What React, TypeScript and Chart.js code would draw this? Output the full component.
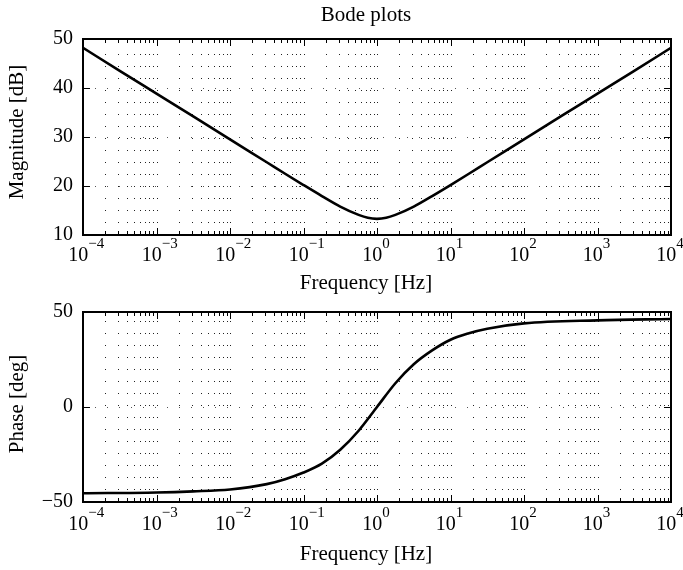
import React, { useEffect, useRef } from 'react';
import { Chart, registerables } from 'chart.js';

Chart.register(...registerables);

// ---------- data ----------
const magFreq = [1e-4, 3.162e-4, 1e-3, 3.162e-3, 1e-2, 3.162e-2, 5.623e-2, 0.1, 0.1778, 0.3162, 0.5623, 0.7499, 1, 1.3335, 1.7783, 3.162, 5.623, 10, 17.78, 31.62, 100, 316.2, 1000, 3162, 1e4];
const magDb = [48.2, 43.5, 38.85, 34.2, 29.5, 24.85, 22.5, 20.2, 17.95, 15.8, 14.1, 13.5, 13.3, 13.5, 14.1, 15.8, 17.95, 20.2, 22.5, 24.85, 29.5, 34.2, 38.85, 43.5, 48.2];

const phaseFreq = [1e-4, 1e-3, 3.162e-3, 1e-2, 3.162e-2, 5.623e-2, 0.1, 0.1778, 0.3162, 0.5623, 1, 1.7783, 3.162, 5.623, 10, 17.78, 31.62, 100, 1000, 1e4];
const phaseDeg = [-45.4, -45.0, -44.4, -43.4, -40.6, -38.0, -34.5, -29.8, -22.5, -12.5, 0, 12.5, 22.5, 29.8, 35.4, 38.8, 41.2, 44.0, 45.6, 46.3];

const decades = [-4, -3, -2, -1, 0, 1, 2, 3, 4];
const magTicks = [10, 20, 30, 40, 50];
const phaseTicks = [-50, 0, 50];

const titleText = 'Bode plots';
const xTitleText = 'Frequency [Hz]';
const magTitleText = 'Magnitude [dB]';
const phaseTitleText = 'Phase [deg]';

const FONT = "'Liberation Serif', 'Times New Roman', Times, serif";

type Deco = {
  yTicks: number[];
  yTitle: string;
  yTitleCenter: number;
  title?: string;
  tickBaseOff: number;
  xTitleBaseOff: number;
};

function makePlugin(d: Deco) {
  return {
    id: 'bodeDeco',
    beforeDatasetsDraw(chart: any) {
      const { ctx, chartArea: a, scales } = chart;
      const xs = scales.x;
      const ys = scales.y;
      ctx.save();
      ctx.strokeStyle = '#222';
      ctx.lineWidth = 1;
      ctx.setLineDash([1, 11]);
      for (let k = -4; k < 4; k++) {
        for (let m = 1; m <= 9; m++) {
          if (k === -4 && m === 1) continue;
          const x = Math.round(xs.getPixelForValue(m * Math.pow(10, k))) + 0.5;
          ctx.beginPath();
          ctx.moveTo(x, a.bottom);
          ctx.lineTo(x, a.top);
          ctx.stroke();
        }
      }
      ctx.strokeStyle = '#555';
      const yMin = d.yTicks[0];
      const yMax = d.yTicks[d.yTicks.length - 1];
      for (const t of d.yTicks) {
        if (t === yMin || t === yMax) continue;
        const y = Math.round(ys.getPixelForValue(t)) + 0.5;
        ctx.beginPath();
        ctx.moveTo(a.left, y);
        ctx.lineTo(a.right, y);
        ctx.stroke();
      }
      ctx.restore();
    },
    afterDraw(chart: any) {
      const { ctx, chartArea: a, scales } = chart;
      const xs = scales.x;
      const ys = scales.y;
      ctx.save();
      ctx.setLineDash([]);
      ctx.strokeStyle = '#000';
      ctx.lineWidth = 1;
      // x ticks (inward, bottom & top)
      for (let k = -4; k <= 4; k++) {
        for (let m = 1; m <= 9; m++) {
          if (k === 4 && m > 1) break;
          const v = m * Math.pow(10, k);
          const x = Math.round(xs.getPixelForValue(v)) + 0.5;
          const len = m === 1 ? 7 : 4;
          ctx.beginPath();
          ctx.moveTo(x, a.bottom);
          ctx.lineTo(x, a.bottom - len);
          ctx.moveTo(x, a.top);
          ctx.lineTo(x, a.top + len);
          ctx.stroke();
        }
      }
      // y ticks (inward, left & right)
      for (const t of d.yTicks) {
        const y = Math.round(ys.getPixelForValue(t)) + 0.5;
        ctx.beginPath();
        ctx.moveTo(a.left, y);
        ctx.lineTo(a.left + 7, y);
        ctx.moveTo(a.right, y);
        ctx.lineTo(a.right - 7, y);
        ctx.stroke();
      }
      // frame
      ctx.lineWidth = 2;
      ctx.strokeRect(a.left, a.top, a.right - a.left, a.bottom - a.top);

      // x tick labels 10^k
      ctx.fillStyle = '#000';
      ctx.textBaseline = 'alphabetic';
      ctx.textAlign = 'left';
      for (const k of decades) {
        const x = xs.getPixelForValue(Math.pow(10, k));
        const digits = String(Math.abs(k));
        const exp = k < 0 ? '\u2212' + digits : digits;
        ctx.font = `20px ${FONT}`;
        const w1 = ctx.measureText('10').width;
        ctx.font = `15px ${FONT}`;
        const wd = ctx.measureText(digits).width;
        const x0 = x - (w1 + wd) / 2 - 1;
        const base = a.bottom + d.tickBaseOff;
        ctx.font = `20px ${FONT}`;
        ctx.fillText('10', x0, base);
        ctx.font = `15px ${FONT}`;
        ctx.fillText(exp, x0 + w1, base - 13);
      }
      // x title
      ctx.font = `21px ${FONT}`;
      ctx.textAlign = 'center';
      ctx.fillText(xTitleText, 366, a.bottom + d.xTitleBaseOff);
      // main title
      if (d.title) {
        ctx.fillText(d.title, 366, 21);
      }
      // y title
      ctx.save();
      ctx.translate(23, d.yTitleCenter);
      ctx.rotate(-Math.PI / 2);
      ctx.textAlign = 'center';
      ctx.fillText(d.yTitle, 0, 0);
      ctx.restore();
      ctx.restore();
    },
  };
}

function makeChart(
  canvas: HTMLCanvasElement,
  freq: number[],
  vals: number[],
  yTicks: number[],
  padTop: number,
  xHeight: number,
  deco: Deco
) {
  return new Chart(canvas, {
    type: 'line',
    data: {
      datasets: [
        {
          data: freq.map((f, i) => ({ x: f, y: vals[i] })),
          borderColor: '#000',
          borderWidth: 2.6,
          pointRadius: 0,
          fill: false,
          cubicInterpolationMode: 'monotone',
          borderJoinStyle: 'round',
          borderCapStyle: 'round',
        } as any,
      ],
    },
    options: {
      animation: false,
      responsive: false,
      devicePixelRatio: 1,
      layout: { padding: { top: padTop, right: 12, left: 0, bottom: 0 } },
      plugins: {
        legend: { display: false },
        tooltip: { enabled: false },
        title: { display: false },
      },
      scales: {
        x: {
          type: 'logarithmic',
          min: 1e-4,
          max: 1e4,
          ticks: { display: false },
          grid: { display: false, drawTicks: false },
          border: { display: false },
          afterFit: (s: any) => {
            s.height = xHeight;
          },
        },
        y: {
          type: 'linear',
          min: yTicks[0],
          max: yTicks[yTicks.length - 1],
          afterBuildTicks: (s: any) => {
            s.ticks = yTicks.map((v) => ({ value: v }));
          },
          ticks: {
            font: { family: FONT, size: 20 },
            color: '#000',
            padding: 10,
            callback: (v: any) => String(v).replace('-', '\u2212'),
          },
          grid: { display: false, drawTicks: false },
          border: { display: false },
          afterFit: (s: any) => {
            s.width = 83;
          },
        },
      },
    } as any,
    plugins: [makePlugin(deco)],
  });
}

export default function App() {
  const topRef = useRef<HTMLCanvasElement>(null);
  const botRef = useRef<HTMLCanvasElement>(null);

  useEffect(() => {
    const c1 = makeChart(topRef.current!, magFreq, magDb, magTicks, 39, 65, {
      yTicks: magTicks,
      yTitle: magTitleText,
      yTitleCenter: 132,
      title: titleText,
      tickBaseOff: 26,
      xTitleBaseOff: 54,
    });
    const c2 = makeChart(botRef.current!, phaseFreq, phaseDeg, phaseTicks, 19, 68, {
      yTicks: phaseTicks,
      yTitle: phaseTitleText,
      yTitleCenter: 404 - 290,
      tickBaseOff: 28,
      xTitleBaseOff: 58,
    });
    return () => {
      c1.destroy();
      c2.destroy();
    };
  }, []);

  return (
    <div style={{ position: 'absolute', left: 0, top: 0, width: 683, height: 570, background: '#fff' }}>
      <canvas ref={topRef} width={683} height={300} style={{ position: 'absolute', left: 0, top: 0, width: 683, height: 300 }} />
      <canvas ref={botRef} width={683} height={280} style={{ position: 'absolute', left: 0, top: 290, width: 683, height: 280 }} />
    </div>
  );
}
